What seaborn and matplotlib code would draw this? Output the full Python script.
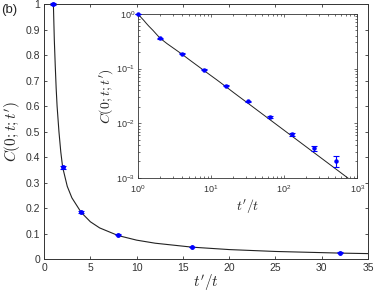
import numpy as np
import pandas as pd
import seaborn as sns
import matplotlib
matplotlib.use('Agg')
import matplotlib.pyplot as plt

# measured points
ratio = [1, 2, 4, 8, 16, 32, 64, 128, 256, 512]
corr = [1.0, 0.36, 0.185, 0.095, 0.048, 0.025, 0.013, 0.0063, 0.0035, 0.00205]
corr_err = [0.004, 0.006, 0.004, 0.002, 0.001, 0.0006, 0.0005, 0.0004, 0.0004, 0.0005]

# model curve
curve_x = [1, 1.05, 1.1, 1.2, 1.3, 1.4, 1.6, 1.8, 2, 2.5, 3, 4, 5, 6, 8, 10, 12, 16, 20, 25,
           32, 35, 64, 128, 256, 512, 1000]
curve_y = [1, 0.93, 0.86, 0.76, 0.67, 0.6, 0.5, 0.42, 0.36, 0.285, 0.24, 0.183, 0.146,
           0.122, 0.092, 0.074, 0.062, 0.0465, 0.037, 0.0296, 0.0232, 0.0212, 0.0116,
           0.0058, 0.0029, 0.00145, 0.00074]

sns.set_style('ticks')
plt.rcParams['font.family'] = ['Liberation Sans', 'DejaVu Sans']
plt.rcParams['mathtext.fontset'] = 'cm'
plt.rcParams['xtick.direction'] = 'in'
plt.rcParams['ytick.direction'] = 'in'

curve = pd.DataFrame({'x': curve_x, 'y': curve_y})
pts = pd.DataFrame({'x': ratio, 'y': corr, 'e': corr_err})

fig = plt.figure(figsize=(3.74, 2.95), dpi=100)
ax = fig.add_axes([0.118, 0.122, 0.866, 0.864])
main_curve = curve[curve.x <= 36]
sns.lineplot(data=main_curve, x='x', y='y', ax=ax, color='#222222', lw=0.8)
mp = pts[pts.x <= 35]
ax.errorbar(mp.x, mp.y, yerr=mp.e, fmt='o', ms=2.5, color='blue', capsize=2.5,
            elinewidth=0.8, capthick=0.8, clip_on=False, zorder=5)
ax.set_xlim(0, 35)
ax.set_ylim(0, 1)
ax.set_xticks(np.arange(0, 36, 5))
ax.set_yticks(np.arange(0, 1.01, 0.1))
ax.set_yticklabels(['0', '0.1', '0.2', '0.3', '0.4', '0.5', '0.6', '0.7', '0.8', '0.9', '1'])
ax.tick_params(labelsize=7.5, length=2.5, width=0.6, top=True, right=True, colors='#333333',
               pad=3)
ax.set_xlabel("$t'/t$", fontsize=11, labelpad=0)
ax.set_ylabel("$C(0;t;t')$", fontsize=11, labelpad=2)
for s in ax.spines.values():
    s.set_linewidth(0.7)
    s.set_color('#333333')
fig.text(0.003, 0.955, '(b)', fontsize=9.5)

ins = fig.add_axes([0.369, 0.397, 0.586, 0.556])
sns.lineplot(data=curve, x='x', y='y', ax=ins, color='#222222', lw=0.7)
ins.errorbar(pts.x, pts.y, yerr=pts.e, fmt='o', ms=2.2, color='blue', capsize=2.5,
             elinewidth=0.8, capthick=0.8, clip_on=False, zorder=5)
ins.set_xscale('log')
ins.set_yscale('log')
ins.set_xlim(1, 1000)
ins.set_ylim(1e-3, 1)
ins.tick_params(which='both', labelsize=6.5, width=0.5, top=True, right=True,
                colors='#333333', pad=2)
ins.tick_params(axis='x', which='both', pad=4)
ins.tick_params(which='major', length=2.5)
ins.tick_params(which='minor', length=1.3)
ins.set_xlabel("$t'/t$", fontsize=10, labelpad=1)
ins.set_ylabel("$C(0;t;t')$", fontsize=10, labelpad=1)
for s in ins.spines.values():
    s.set_linewidth(0.6)
    s.set_color('#333333')

fig.savefig('out.png', dpi=100)
